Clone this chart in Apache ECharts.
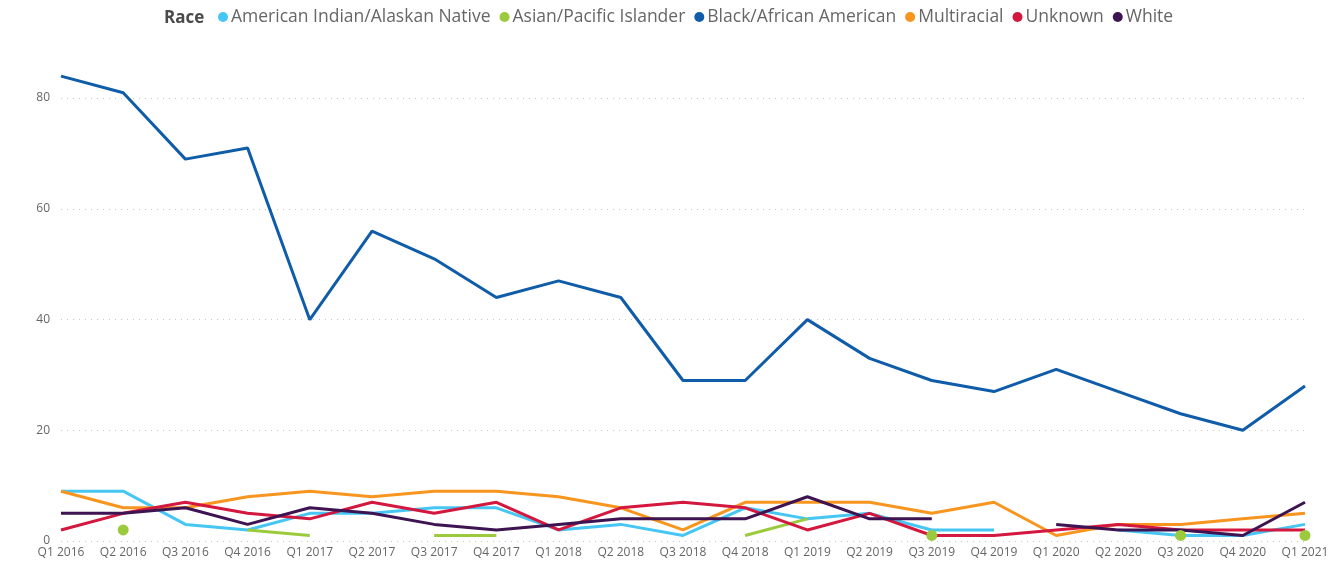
<!DOCTYPE html>
<html>
<head>
<meta charset="utf-8">
<style>
    html,body{margin:0;padding:0;background:#fff;}
    #raceTrend{width:1340px;height:562px;}
</style>
<script src="https://cdn.jsdelivr.net/npm/echarts@6/dist/echarts.min.js"></script>
</head>
<body>
<div id="raceTrend"></div>
<script>
    // quarters on the x axis
    var quarters = ['Q1 2016','Q2 2016','Q3 2016','Q4 2016','Q1 2017','Q2 2017','Q3 2017','Q4 2017',
        'Q1 2018','Q2 2018','Q3 2018','Q4 2018','Q1 2019','Q2 2019','Q3 2019','Q4 2019',
        'Q1 2020','Q2 2020','Q3 2020','Q4 2020','Q1 2021'];
    var yTicks = [0,20,40,60,80];

    var amIndian = [9,9,3,2,5,5,6,6,2,3,1,6,4,5,2,2,null,2,1,1,3];
    var asianPI  = [null,2,null,2,1,null,1,1,null,null,null,1,4,null,1,null,null,null,1,null,1];
    var blackAA  = [84,81,69,71,40,56,51,44,47,44,29,29,40,33,29,27,31,27,23,20,28];
    var multi    = [9,6,6,8,9,8,9,9,8,6,2,7,7,7,5,7,1,3,3,4,5];
    var unknown  = [2,5,7,5,4,7,5,7,2,6,7,6,2,5,1,1,2,3,2,2,2];
    var white    = [5,5,6,3,6,5,3,2,3,4,4,4,8,4,4,null,3,2,2,1,7];

    var names  = ['American Indian/Alaskan Native','Asian/Pacific Islander','Black/African American','Multiracial','Unknown','White'];
    var values = [amIndian, asianPI, blackAA, multi, unknown, white];
    var colors = ['#45C6F3','#9BCB3C','#0F5CA8','#F7951E','#D3173E','#3D1352'];

    var fontFamily = '"Open Sans", "Noto Sans", sans-serif';

    function makeSeries(name, data){
        return {
            name: name,
            type: 'line',
            data: data,
            xAxisIndex: 0,
            yAxisIndex: 0,
            lineStyle: {width: 3},
            symbol: 'circle',
            showSymbol: true,
            // only points with no neighbours get a dot, like the source
            symbolSize: function(val, params){
                var i = params.dataIndex;
                var prev = i > 0 ? data[i-1] : null;
                var next = i < data.length-1 ? data[i+1] : null;
                return (prev == null && next == null) ? 11 : 0;
            },
            emphasis: {disabled: true},
            connectNulls: false
        };
    }

    var series = [];
    for(var i=0;i<names.length;i++){
        series.push(makeSeries(names[i], values[i]));
    }

    var chart = echarts.init(document.getElementById('raceTrend'), null, {renderer:'canvas'});
    var option = {
        animation: false,
        color: colors,
        textStyle: {fontFamily: fontFamily},
        graphic: [{
            type: 'text',
            left: 164,
            top: 10,
            style: {text: 'Race', font: 'bold 17px ' + fontFamily, fill: '#4a4a4a'}
        }],
        legend: {
            left: 213,
            top: 3,
            icon: 'circle',
            itemWidth: 10,
            itemHeight: 10,
            itemGap: 9,
            textStyle: {fontSize: 17.5, color: '#666', padding: [0,0,0,-2]},
            data: names
        },
        grid: [
            {left: 61, right: 35, top: 54, bottom: 21},
            {left: 61, right: 35, top: 98, bottom: 21}
        ],
        xAxis: [{
            gridIndex: 0,
            type: 'category',
            boundaryGap: false,
            data: quarters,
            axisLine: {show: false},
            axisTick: {show: false},
            axisLabel: {color: '#666', fontSize: 12, margin: 6}
        },{
            gridIndex: 1,
            type: 'category',
            boundaryGap: false,
            data: quarters,
            show: false
        }],
        yAxis: [{
            gridIndex: 0,
            type: 'value',
            min: 0,
            max: 88,
            show: false
        },{
            // only used for the tick labels and dotted grid lines
            gridIndex: 1,
            type: 'value',
            min: yTicks[0],
            max: yTicks[yTicks.length-1],
            interval: 20,
            axisLine: {show: false},
            axisTick: {show: false},
            axisLabel: {color: '#666', fontSize: 12, margin: 11},
            splitLine: {show: true, lineStyle: {color: '#c8c8c8', type: [1,5], width: 1}}
        }],
        series: series
    };
    chart.setOption(option);
</script>
</body>
</html>
